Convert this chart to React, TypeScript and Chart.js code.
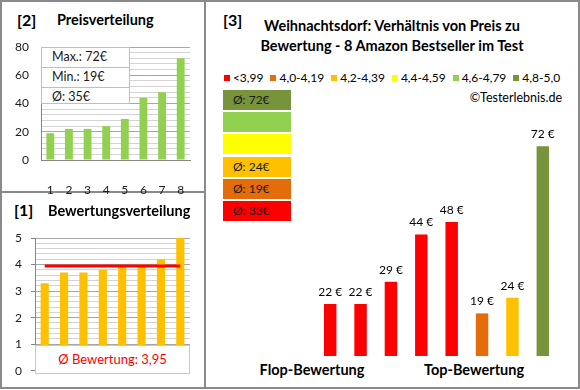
import React, { useEffect, useRef } from 'react';
import { Chart, registerables } from 'chart.js';

Chart.register(...registerables);

const FONT = 'Lato, "Open Sans", sans-serif';

// ---- data ----
const priceCategories = ['1', '2', '3', '4', '5', '6', '7', '8'];
const pricesSorted = [19, 22, 22, 24, 29, 44, 48, 72];
const priceTickLabels = [0, 20, 40, 60, 80];
const priceStats = ['Max.: 72€', 'Min.: 19€', 'Ø: 35€'];

const ratingCategories = ['1', '2', '3', '4', '5', '6', '7', '8'];
const ratingsSorted = [3.3, 3.7, 3.7, 3.8, 3.9, 4.0, 4.2, 5.0];
const ratingAverage = [3.95, 3.95, 3.95, 3.95, 3.95, 3.95, 3.95, 3.95];
const ratingTickLabels = [0, 1, 2, 3, 4, 5];
const ratingAverageText = 'Ø Bewertung: 3,95';

const productLabels = ['P1', 'P2', 'P3', 'P4', 'P5', 'P6', 'P7', 'P8'];
const productPrices = [22, 22, 29, 44, 48, 19, 24, 72];
const productRatings = [3.3, 3.7, 3.7, 3.8, 3.9, 4.0, 4.2, 5.0];

const ratingClasses = ['<3,99', '4,0-4,19', '4,2-4,39', '4,4-4,59', '4,6-4,79', '4,8-5,0'];
const classLowerBounds = [0, 4.0, 4.2, 4.4, 4.6, 4.8];
const classColors = ['#FF0000', '#E46C0A', '#FFC000', '#FFFF00', '#92D050', '#77933C'];
const classAverages: (number | null)[] = [33, 19, 24, null, null, 72];

const titleMain = ['Weihnachtsdorf: Verhältnis von Preis zu', 'Bewertung - 8 Amazon Bestseller im Test'];

function classIndex(r: number) {
  let idx = 0;
  classLowerBounds.forEach((b, i) => {
    if (r >= b) idx = i;
  });
  return idx;
}

const isMultiple = (v: number, step: number) => Math.abs(v / step - Math.round(v / step)) < 1e-6;

const BORDER = '#8a8a8a';

export default function App() {
  const priceRef = useRef<HTMLCanvasElement>(null);
  const ratingRef = useRef<HTMLCanvasElement>(null);
  const mainRef = useRef<HTMLCanvasElement>(null);

  useEffect(() => {
    document.body.style.margin = '0';
    const tickFont = { family: FONT, size: 12 };

    const priceChart = new Chart(priceRef.current!, {
      type: 'bar',
      data: {
        labels: priceCategories,
        datasets: [
          {
            data: pricesSorted,
            backgroundColor: '#92D050',
            barPercentage: 0.42,
            categoryPercentage: 1,
          },
        ],
      },
      options: {
        animation: false,
        responsive: false,
        maintainAspectRatio: false,
        events: [],
        layout: { padding: { left: 0, top: 47, right: 10, bottom: 0 } },
        plugins: { legend: { display: false }, tooltip: { enabled: false } },
        scales: {
          x: {
            grid: { display: false },
            border: { display: true, color: '#868686' },
            ticks: { padding: 15, font: tickFont, color: '#1a1a1a', maxRotation: 0 },
            afterFit: (s: any) => {
              s.height = 35;
            },
          },
          y: {
            min: 0,
            max: 80,
            border: { display: true, color: '#868686' },
            grid: {
              drawTicks: false,
              color: (ctx: any) => (ctx.tick && priceTickLabels.includes(ctx.tick.value) ? '#a6a6a6' : '#d4d4d4'),
            },
            ticks: {
              stepSize: 4,
              autoSkip: false,
              padding: 12,
              font: tickFont,
              color: '#1a1a1a',
              callback: (v: any) => (priceTickLabels.includes(Number(v)) ? String(v) : ''),
            },
            afterFit: (s: any) => {
              s.width = 41;
            },
          },
        },
      },
    });

    const ratingChart = new Chart(ratingRef.current!, {
      type: 'bar',
      data: {
        labels: ratingCategories,
        datasets: [
          {
            type: 'line',
            data: ratingAverage,
            borderColor: '#FF0000',
            borderWidth: 3,
            pointRadius: 0,
            order: 0,
          } as any,
          {
            type: 'bar',
            data: ratingsSorted,
            backgroundColor: '#FFC000',
            barPercentage: 0.42,
            categoryPercentage: 1,
            order: 1,
          },
        ],
      },
      options: {
        animation: false,
        responsive: false,
        maintainAspectRatio: false,
        events: [],
        layout: { padding: { left: 0, top: 46, right: 10, bottom: 14 } },
        plugins: { legend: { display: false }, tooltip: { enabled: false } },
        scales: {
          x: { display: false },
          y: {
            min: 0,
            max: 5,
            border: { display: true, color: '#868686' },
            grid: {
              drawTicks: true,
              tickLength: 4,
              color: (ctx: any) => (ctx.tick && isMultiple(ctx.tick.value, 1) ? '#a6a6a6' : '#d4d4d4'),
              tickColor: (ctx: any) => (ctx.tick && isMultiple(ctx.tick.value, 1) ? '#868686' : 'rgba(0,0,0,0)'),
            },
            ticks: {
              stepSize: 0.2,
              autoSkip: false,
              padding: 9,
              font: tickFont,
              color: '#1a1a1a',
              callback: (v: any) => {
                const n = Number(v);
                const r = Math.round(n);
                return isMultiple(n, 1) && ratingTickLabels.includes(r) ? String(r) : '';
              },
            },
            afterFit: (s: any) => {
              s.width = 35;
            },
          },
        },
      },
    });

    const valueLabels = {
      id: 'valueLabels',
      afterDatasetsDraw(chart: any) {
        const ctx = chart.ctx;
        const meta = chart.getDatasetMeta(0);
        const values = chart.data.datasets[0].data;
        ctx.save();
        ctx.font = `12px ${FONT}`;
        ctx.fillStyle = '#000000';
        ctx.textAlign = 'center';
        ctx.textBaseline = 'middle';
        meta.data.forEach((el: any, i: number) => {
          ctx.fillText(`${values[i]}\u00a0€`, el.x, el.y - 12);
        });
        ctx.restore();
      },
    };

    const mainChart = new Chart(mainRef.current!, {
      type: 'bar',
      data: {
        labels: productLabels,
        datasets: [
          {
            data: productPrices,
            backgroundColor: productRatings.map((r) => classColors[classIndex(r)]),
            barPercentage: 0.41,
            categoryPercentage: 1,
          },
        ],
      },
      options: {
        animation: false,
        responsive: false,
        maintainAspectRatio: false,
        events: [],
        layout: { padding: 0 },
        plugins: { legend: { display: false }, tooltip: { enabled: false } },
        scales: {
          x: { display: false },
          y: { display: false, min: 5.5, max: 80.3 },
        },
      },
      plugins: [valueLabels],
    });

    return () => {
      priceChart.destroy();
      ratingChart.destroy();
      mainChart.destroy();
    };
  }, []);

  const abs = (s: React.CSSProperties): React.CSSProperties => ({ position: 'absolute', ...s });
  const boxOrder = [5, 4, 3, 2, 1, 0];

  return (
    <div style={abs({ left: 0, top: 0, width: 580, height: 390, background: '#fff', fontFamily: FONT, color: '#000', overflow: 'hidden' })}>
      {/* panel frames */}
      <div style={abs({ left: 0, top: 0, width: 206, height: 193, border: `2px solid ${BORDER}`, boxSizing: 'border-box' })} />
      <div style={abs({ left: 0, top: 191, width: 206, height: 198, border: `2px solid ${BORDER}`, boxSizing: 'border-box' })} />
      <div style={abs({ left: 204, top: 0, width: 376, height: 389, border: `2px solid ${BORDER}`, boxSizing: 'border-box' })} />

      {/* panel 2 */}
      <div style={abs({ left: 17, top: 10, fontSize: 16, fontWeight: 700, lineHeight: '20px' })}>[2]</div>
      <div style={abs({ left: 57, top: 10, fontSize: 14.5, fontWeight: 700, lineHeight: '20px' })}>Preisverteilung</div>
      <canvas ref={priceRef} width={200} height={195} style={abs({ left: 0, top: 0, width: 200, height: 195 })} />
      <div style={abs({ left: 41, top: 47, width: 89, height: 57, background: '#fff', border: '1px solid #bfbfbf', boxSizing: 'border-box' })}>
        {priceStats.map((t, i) => (
          <div
            key={t}
            style={{
              height: i < 2 ? 19 : 17,
              lineHeight: i < 2 ? '18px' : '17px',
              borderBottom: i < 2 ? '1px solid #bfbfbf' : 'none',
              paddingLeft: 10,
              fontSize: 12.5,
              color: '#1a1a1a',
            }}
          >
            {t}
          </div>
        ))}
      </div>

      {/* panel 1 */}
      <div style={abs({ left: 14, top: 200, fontSize: 16, fontWeight: 700, lineHeight: '20px' })}>[1]</div>
      <div style={abs({ left: 48, top: 201, fontSize: 14.5, fontWeight: 700, lineHeight: '20px' })}>Bewertungsverteilung</div>
      <canvas ref={ratingRef} width={200} height={195} style={abs({ left: 0, top: 192, width: 200, height: 195 })} />
      <div
        style={abs({
          left: 35,
          top: 345,
          width: 155,
          height: 29,
          background: '#fff',
          border: '1px solid #c8c8c8',
          boxSizing: 'border-box',
          textAlign: 'center',
          lineHeight: '27px',
          fontSize: 13,
          color: '#FF0000',
        })}
      >
        {ratingAverageText}
      </div>

      {/* panel 3 */}
      <div style={abs({ left: 223, top: 10, fontSize: 16, fontWeight: 700, lineHeight: '20px' })}>[3]</div>
      <div style={abs({ left: 205, top: 16, width: 374, textAlign: 'center', fontSize: 14.5, fontWeight: 700, lineHeight: '20px' })}>
        {titleMain.map((l) => (
          <div key={l}>{l}</div>
        ))}
      </div>
      <div style={abs({ left: 205, top: 70, width: 374, height: 16, display: 'flex', justifyContent: 'center', alignItems: 'center', fontSize: 12, lineHeight: '16px' })}>
        {ratingClasses.map((c, i) => (
          <div key={c} style={{ display: 'flex', alignItems: 'center', marginLeft: i === 0 ? 0 : 7 }}>
            <span style={{ display: 'inline-block', width: 6, height: 6, background: classColors[i], marginRight: 3 }} />
            <span>{c}</span>
          </div>
        ))}
      </div>
      <div style={abs({ left: 400, top: 90, width: 162, textAlign: 'right', fontSize: 12.5, lineHeight: '16px' })}>©Testerlebnis.de</div>

      {boxOrder.map((ci, k) => (
        <div
          key={ci}
          style={abs({
            left: 223,
            top: Math.round(90 + k * 22.2),
            width: 68,
            height: 20,
            background: classColors[ci],
            fontSize: 12,
            lineHeight: '20px',
            paddingLeft: 10,
            boxSizing: 'border-box',
            color: '#1a1a1a',
          })}
        >
          {classAverages[ci] !== null ? `Ø: ${classAverages[ci]}€` : ''}
        </div>
      ))}

      <canvas ref={mainRef} width={243} height={236} style={abs({ left: 315, top: 120, width: 243, height: 236 })} />

      <div style={abs({ left: 252, top: 360, width: 120, textAlign: 'center', fontSize: 14.5, fontWeight: 700, lineHeight: '20px' })}>Flop-Bewertung</div>
      <div style={abs({ left: 414, top: 360, width: 120, textAlign: 'center', fontSize: 14.5, fontWeight: 700, lineHeight: '20px' })}>Top-Bewertung</div>
    </div>
  );
}
